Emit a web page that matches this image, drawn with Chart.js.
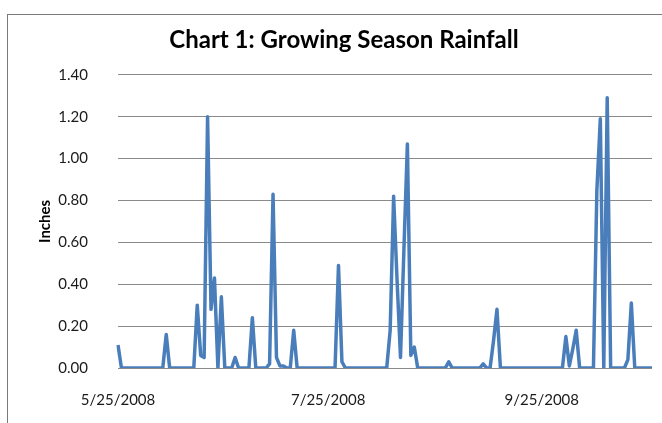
<!DOCTYPE html>
<html>
<head>
<meta charset="utf-8">
<script src="https://cdn.jsdelivr.net/npm/chart.js@4.4.1/dist/chart.umd.min.js"></script>
<style>
  html, body { margin: 0; padding: 0; background: #ffffff; }
  body { width: 662px; height: 423px; position: relative; overflow: hidden; }
  #frame {
    position: absolute; left: 7px; top: 14px; width: 700px; height: 450px;
    border-left: 1px solid #7a7a7a; border-top: 1px solid #7a7a7a;
  }
  #wrap { position: absolute; left: 0; top: 0; width: 662px; height: 423px; }
</style>
</head>
<body>
<div id="frame"></div>
<div id="wrap"><canvas id="chart" width="662" height="423"></canvas></div>
<script>
// Daily rainfall, one reading per day starting 5/25/2008 (inches)
const startDate = [2008, 4, 25];   // year, month index, day
const rainfall = [
  0.11, 0, 0, 0, 0, 0, 0, 0, 0, 0,          // 5/25 - 6/3
  0, 0, 0, 0, 0.16, 0, 0, 0, 0, 0,          // 6/4 - 6/13
  0, 0, 0, 0.30, 0.06, 0.05, 1.20, 0.28, 0.43, 0,   // 6/14 - 6/23
  0.34, 0, 0, 0, 0.05, 0, 0, 0, 0, 0.24,    // 6/24 - 7/3
  0, 0, 0, 0, 0.02, 0.83, 0.05, 0.01, 0.01, 0,      // 7/4 - 7/13
  0, 0.18, 0, 0, 0, 0, 0, 0, 0, 0,          // 7/14 - 7/23
  0, 0, 0, 0, 0.49, 0.03, 0, 0, 0, 0,       // 7/24 - 8/2
  0, 0, 0, 0, 0, 0, 0, 0, 0, 0.18,          // 8/3 - 8/12
  0.82, 0.42, 0.05, 0.57, 1.07, 0.06, 0.10, 0, 0, 0,  // 8/13 - 8/22
  0, 0, 0, 0, 0, 0, 0.03, 0, 0, 0,          // 8/23 - 9/1
  0, 0, 0, 0, 0, 0, 0.02, 0, 0, 0.13,       // 9/2 - 9/11
  0.28, 0, 0, 0, 0, 0, 0, 0, 0, 0,          // 9/12 - 9/21
  0, 0, 0, 0, 0, 0, 0, 0, 0, 0,             // 9/22 - 10/1
  0.15, 0.01, 0.09, 0.18, 0, 0, 0, 0, 0, 0.85,      // 10/2 - 10/11
  1.19, 0, 1.29, 0, 0, 0, 0, 0, 0.04, 0.31, // 10/12 - 10/21
  0, 0, 0, 0, 0, 0                          // 10/22 - 10/27
];
const shownDates = ['5/25/2008', '7/25/2008', '9/25/2008'];
const yTicks = [0, 0.2, 0.4, 0.6, 0.8, 1.0, 1.2, 1.4];

// category labels: one m/d/yyyy string per reading
const dates = rainfall.map((_, i) => {
  const d = new Date(startDate[0], startDate[1], startDate[2] + i);
  return (d.getMonth() + 1) + '/' + d.getDate() + '/' + d.getFullYear();
});

const font = 'Lato, "Open Sans", "DejaVu Sans", sans-serif';

// value labels of the vertical axis, placed through the y scale
const yTickText = {
  id: 'yTickText',
  afterDraw(chart) {
    const scale = chart.scales.y;
    const ctx = chart.ctx;
    ctx.save();
    ctx.font = '15px ' + font;
    ctx.fillStyle = '#1a1a1a';
    ctx.textAlign = 'right';
    ctx.textBaseline = 'middle';
    yTicks.forEach(v => {
      ctx.fillText(v.toFixed(2), chart.chartArea.left - 30, scale.getPixelForValue(v));
    });
    ctx.restore();
  }
};

new Chart(document.getElementById('chart'), {
  type: 'line',
  data: {
    labels: dates,
    datasets: [{
      label: 'Rainfall',
      data: rainfall,
      borderColor: '#4a7ebb',
      borderWidth: 3.5,
      pointRadius: 0,
      tension: 0,
      borderJoinStyle: 'round',
      fill: false
    }]
  },
  plugins: [yTickText],
  options: {
    responsive: false,
    animation: false,
    devicePixelRatio: 1,
    layout: { padding: { left: 36, right: 10, top: 0, bottom: 0 } },
    plugins: {
      legend: { display: false },
      tooltip: { enabled: false },
      title: {
        display: true,
        text: 'Chart 1: Growing Season Rainfall',
        color: '#000000',
        font: { family: font, size: 24, weight: 'bold' },
        padding: { top: 26, bottom: 20 }
      }
    },
    scales: {
      x: {
        type: 'category',
        offset: false,
        // invisible tick marks push the date labels down
        grid: { display: true, drawOnChartArea: false, drawTicks: true,
                tickLength: 21, tickColor: 'rgba(0,0,0,0)' },
        border: { display: false },
        afterFit: (s) => { s.height = 55; s.paddingLeft = 0; s.paddingRight = 0; },
        ticks: {
          autoSkip: false,
          maxRotation: 0,
          minRotation: 0,
          padding: 2,
          color: '#1a1a1a',
          font: { family: font, size: 15 },
          callback: function (v) {
            const lab = this.getLabelForValue(v);
            return shownDates.includes(lab) ? lab : '';
          }
        }
      },
      y: {
        min: yTicks[0],
        max: yTicks[yTicks.length - 1],
        afterFit: (s) => { s.width = 82; },
        grid: { color: '#8a8a8a', lineWidth: 1, drawTicks: false },
        border: { display: false },
        title: {
          display: true,
          text: 'Inches',
          color: '#000000',
          font: { family: font, size: 15, weight: 'bold' },
          padding: { top: 0, bottom: 0 }
        },
        ticks: {
          display: false,
          stepSize: yTicks[1] - yTicks[0]
        }
      }
    }
  }
});
</script>
</body>
</html>
